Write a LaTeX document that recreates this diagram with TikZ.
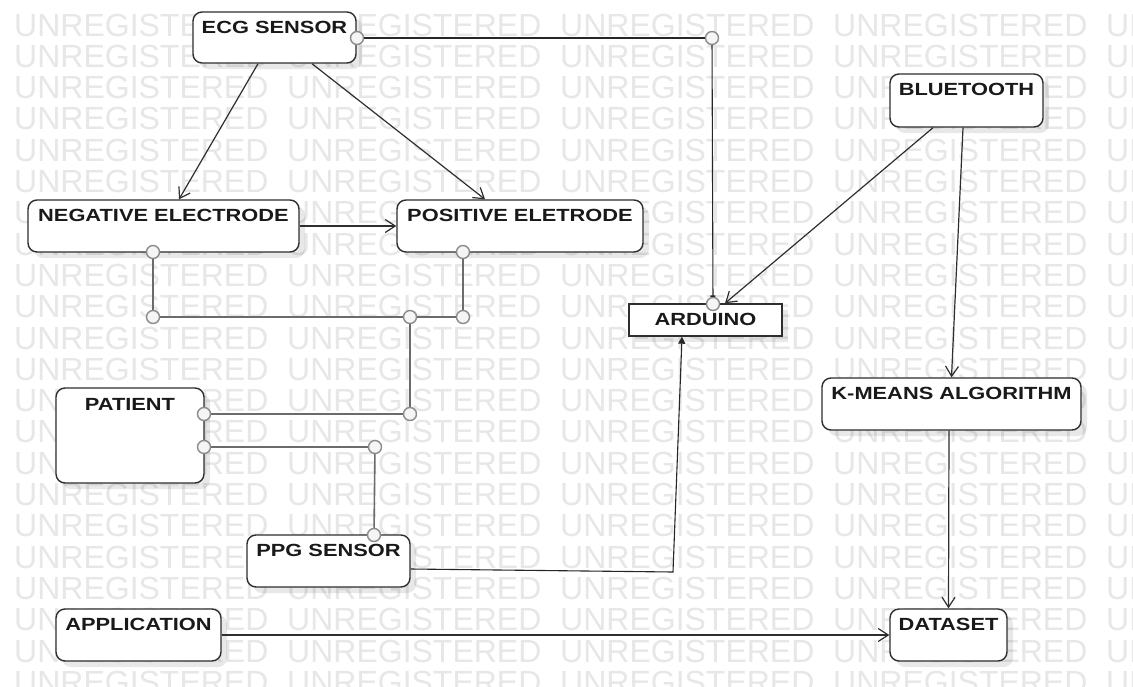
\documentclass[tikz,border=0pt]{standalone}
\usepackage{fontspec}
\newfontfamily\labfont{Liberation Sans}[FakeStretch=1.24]
\newfontfamily\wmfont{Liberation Sans}
\usetikzlibrary{arrows.meta,shadows}
\definecolor{wmgray}{gray}{0.905}
\definecolor{edgecol}{gray}{0.18}
\definecolor{txtcol}{gray}{0.1}
\definecolor{portdraw}{gray}{0.55}
\definecolor{portfill}{gray}{0.96}
\definecolor{juncol}{gray}{0.42}
\begin{document}
\begin{tikzpicture}[x=1pt,y=-1pt,
  wmtext/.style={font=\wmfont\fontsize{32}{32}\selectfont, text=wmgray, inner sep=0pt, anchor=base west},
  box/.style={draw=edgecol, line width=1.4pt, rounded corners=9pt, fill=white, inner sep=0pt,
    drop shadow={shadow xshift=6pt, shadow yshift=-6pt, fill=black, opacity=0.09}},
  sqbox/.style={draw=edgecol, line width=1.4pt, fill=white, inner sep=0pt,
    drop shadow={shadow xshift=6pt, shadow yshift=-6pt, fill=black, opacity=0.09}},
  lab/.style={font=\labfont\bfseries\fontsize{17.6}{20}\selectfont, text=txtcol, inner sep=0pt, anchor=base},
  port/.style={circle, draw=portdraw, fill=portfill, line width=1.4pt, minimum size=13pt, inner sep=0pt},
  arr/.style={draw=edgecol, line width=1.2pt, -{Straight Barb[length=10pt,width=13pt,line width=1.2pt]}},
  plain/.style={draw=black!85, line width=1.1pt},
  junc/.style={draw=juncol, line width=1.6pt}
]
\useasboundingbox (0,0) rectangle (1133,686);
\fill[white] (0,0) rectangle (1133,686);
% watermark
\begin{scope}
\clip (0,0) rectangle (1133,686);
\foreach \k in {0,...,21} {
  \foreach \i in {0,...,4} {
    \node[wmtext] (wm-\k-\i) at ({14+273*\i},{36+31.3*\k}) {UNREGISTERED};
  }
}
\end{scope}
% boxes
\node[box, minimum width=163pt, minimum height=51pt] (ecg) at (274.5,37.5) {};
\node[box, minimum width=271pt, minimum height=52pt] (neg) at (163.5,226) {};
\node[box, minimum width=246pt, minimum height=52pt] (pos) at (520,226) {};
\node[box, minimum width=153pt, minimum height=53pt] (bt) at (966.5,100.5) {};
\node[sqbox, minimum width=153pt, minimum height=32pt] (ard) at (705.5,320) {};
\node[box, minimum width=259pt, minimum height=52pt] (km) at (951.5,404) {};
\node[box, minimum width=148pt, minimum height=95pt] (pat) at (130,435.5) {};
\node[box, minimum width=163pt, minimum height=52pt] (ppg) at (328.5,561) {};
\node[box, minimum width=165pt, minimum height=52pt] (app) at (138.5,635) {};
\node[box, minimum width=117pt, minimum height=52pt] (ds) at (948.5,635) {};
% labels
\node[lab] (ecgT) at ([yshift=-22pt]ecg.north) {ECG SENSOR};
\node[lab] (negT) at ([yshift=-22pt]neg.north) {NEGATIVE ELECTRODE};
\node[lab] (posT) at ([yshift=-22pt]pos.north) {POSITIVE ELETRODE};
\node[lab] (btT) at ([yshift=-22pt]bt.north) {BLUETOOTH};
\node[lab] (ardT) at ([yshift=-22pt]ard.north) {ARDUINO};
\node[lab] (kmT) at ([yshift=-22pt]km.north) {K-MEANS ALGORITHM};
\node[lab] (patT) at ([yshift=-23pt]pat.north) {PATIENT};
\node[lab] (ppgT) at ([yshift=-22pt]ppg.north) {PPG SENSOR};
\node[lab] (appT) at ([yshift=-22pt]app.north) {APPLICATION};
\node[lab] (dsT) at ([yshift=-22pt]ds.north) {DATASET};
% ports
\node[port] (pE) at (357,38) {};
\node[port] (pA) at (712,38) {};
\node[port] (pArd) at (713,304) {};
\node[port] (pN) at (153,252) {};
\node[port] (pJ1) at (153,317) {};
\node[port] (pJ2) at (410,317) {};
\node[port] (pJ3) at (463,317) {};
\node[port] (pP) at (463,252) {};
\node[port] (pJ4) at (410,414) {};
\node[port] (pPt1) at (204,414) {};
\node[port] (pPt2) at (204,447) {};
\node[port] (pJ5) at (375,447) {};
\node[port] (pPPG) at (374,535) {};
% connectors
\draw[plain] (pE) -- (pA);
\draw[plain, -{Bar[width=5pt,line width=1.4pt]}] (pA) -- (pArd);
\draw[arr] ([xshift=-16.5pt]ecg.south) -- ([xshift=15.5pt]neg.north);
\draw[arr] ([xshift=37.5pt]ecg.south) -- ([xshift=-35pt]pos.north);
\draw[arr] (neg.east) -- (pos.west);
\draw[arr] ([xshift=-33.5pt]bt.south) -- ([xshift=19.5pt]ard.north);
\draw[arr] ([xshift=-3.5pt]bt.south) -- (km.north);
\draw[arr] ([xshift=-2.5pt]km.south) -- (ds.north);
\draw[arr] (app.east) -- (ds.west);
\coordinate (bend) at (673,572);
\draw[plain, -{Triangle[length=7pt,width=7pt]}] ([yshift=-8pt]ppg.east) -- (bend) -- ([xshift=-23.5pt]ard.south);
\draw[junc] (pN) -- (pJ1);
\draw[junc] (pJ1) -- (pJ2);
\draw[junc] (pJ2) -- (pJ3);
\draw[junc] (pP) -- (pJ3);
\draw[junc] (pJ2) -- (pJ4);
\draw[junc] (pPt1) -- (pJ4);
\draw[junc] (pPt2) -- (pJ5);
\draw[junc] (pJ5) -- (pPPG);
\end{tikzpicture}
\end{document}
